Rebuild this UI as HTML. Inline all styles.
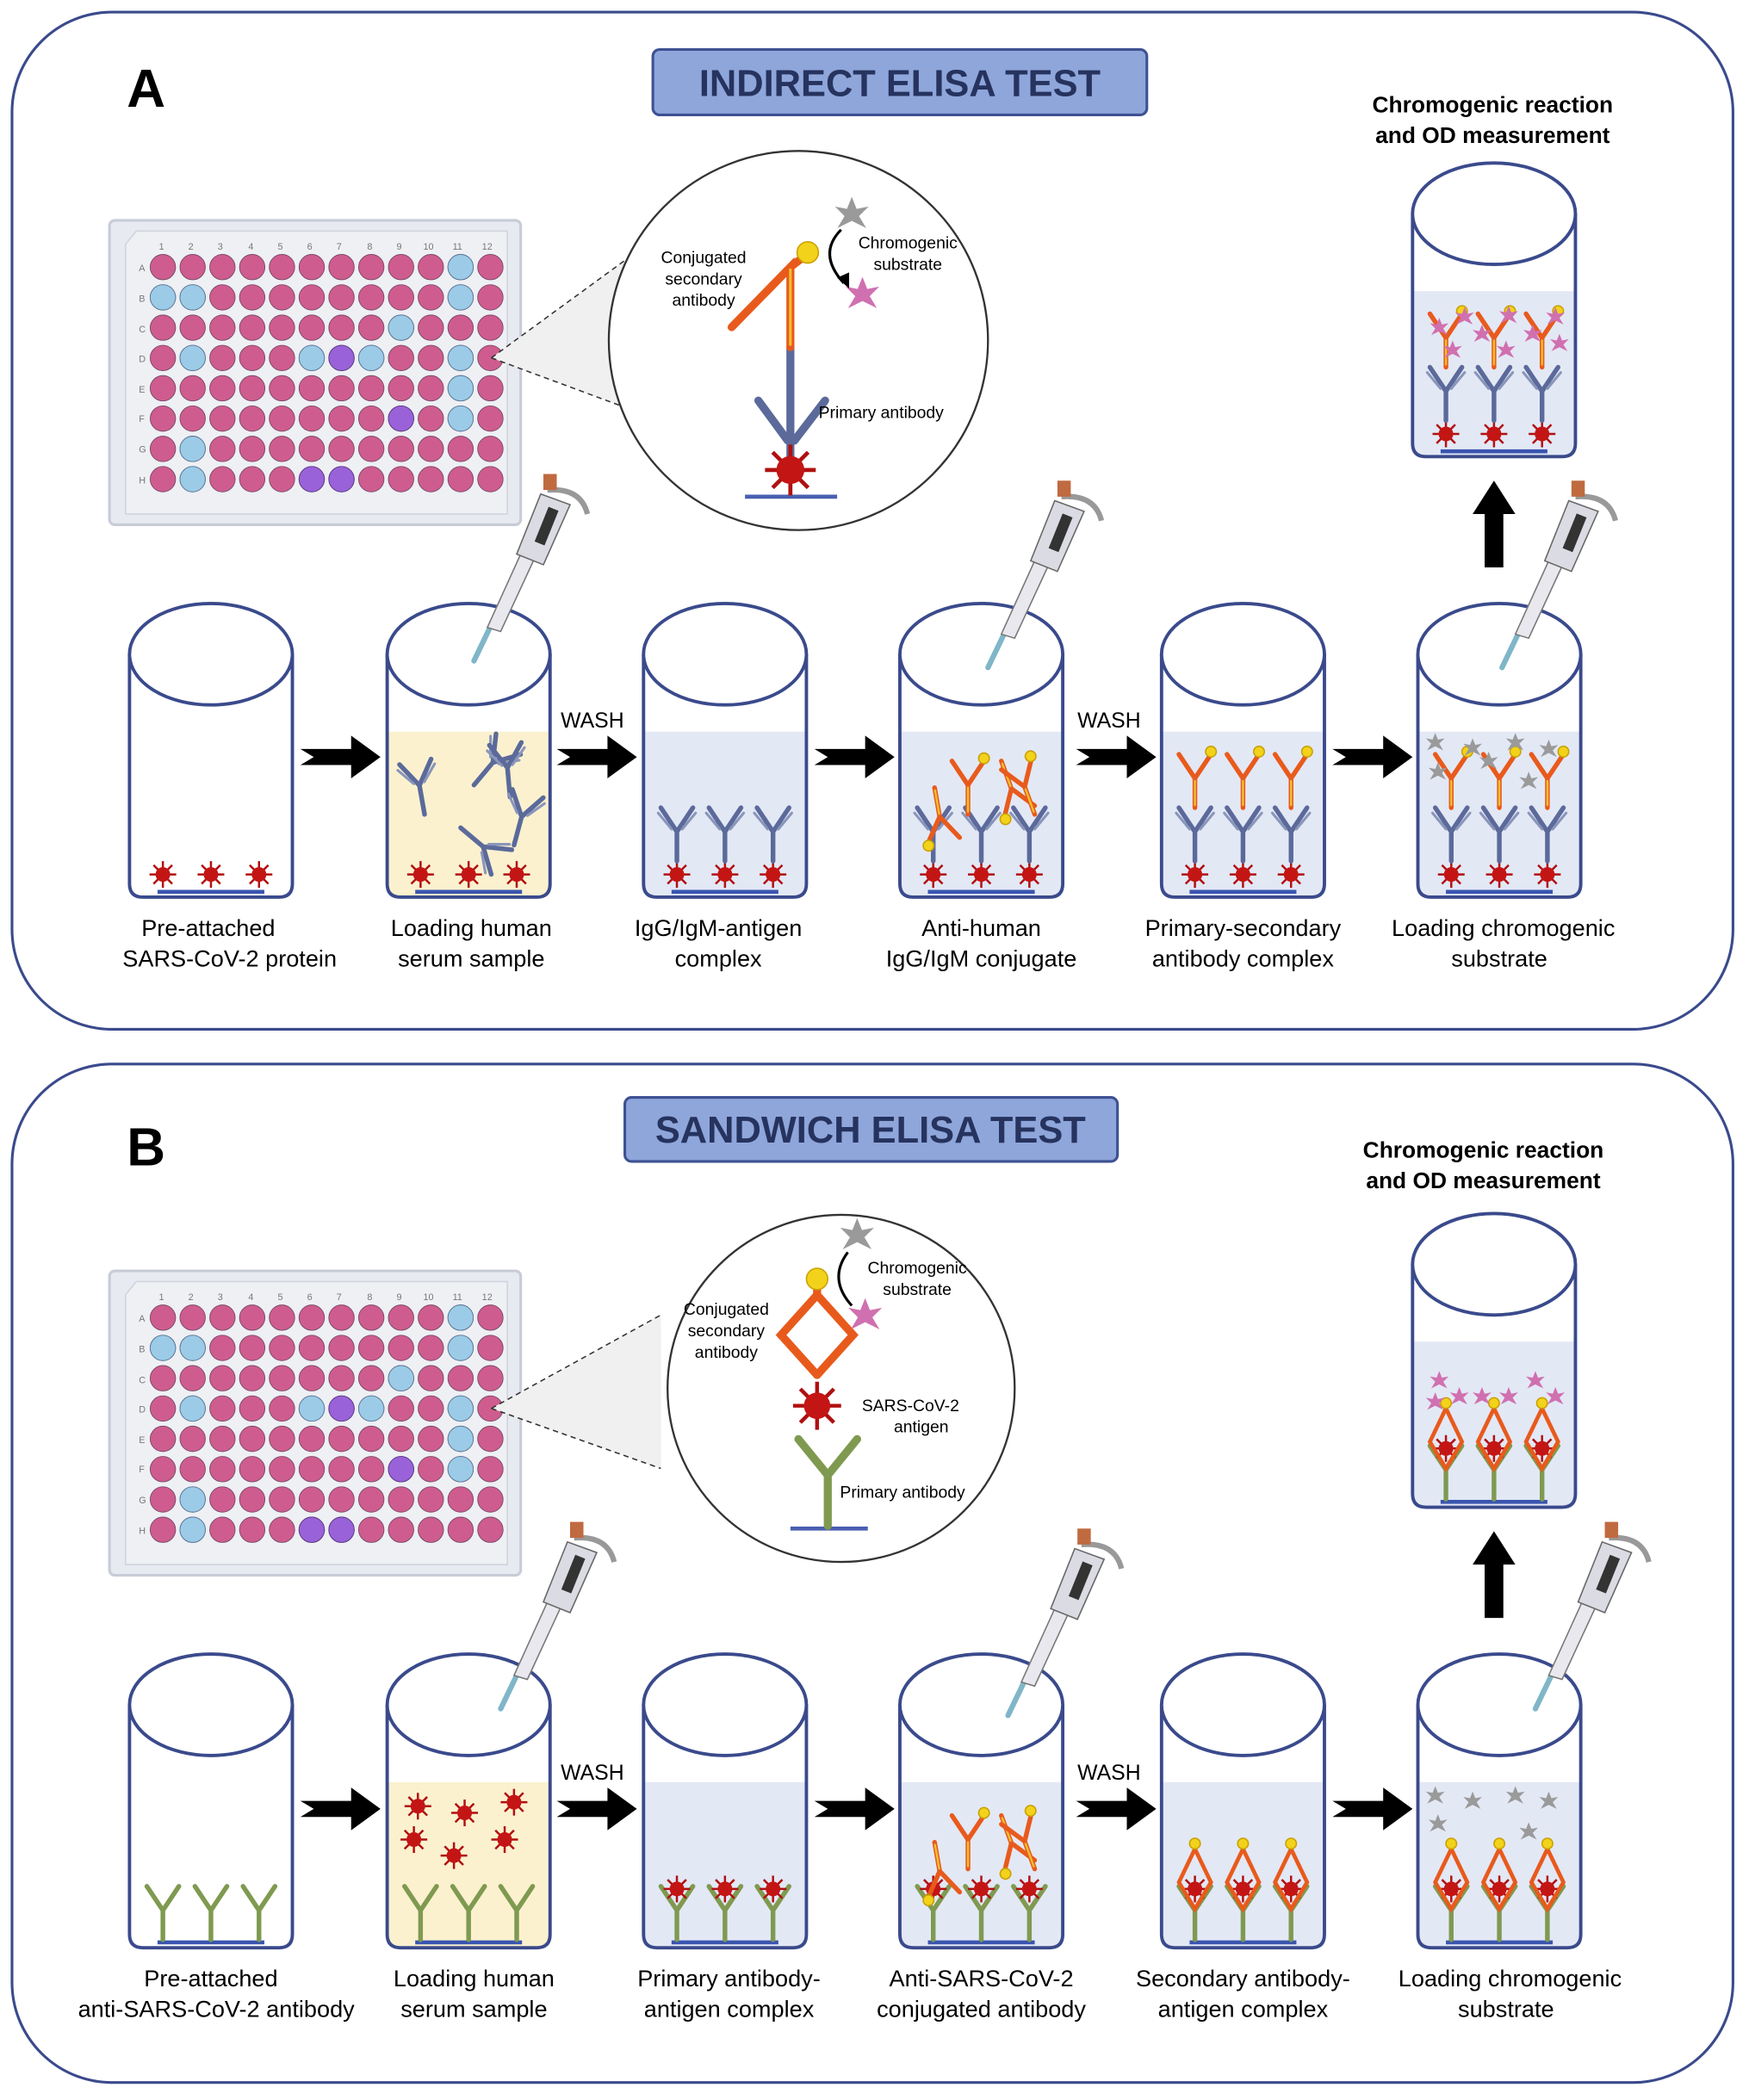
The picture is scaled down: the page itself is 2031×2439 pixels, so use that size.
<!DOCTYPE html>
<html><head><meta charset="utf-8"><style>
html,body{margin:0;padding:0;background:#fff}
svg{display:block}
text{font-family:"Liberation Sans",sans-serif}
</style></head><body>
<svg width="2031" height="2439" viewBox="0 0 1310 1573" xmlns="http://www.w3.org/2000/svg">
<defs>
 <g id="well">
  <path d="M-61,0 L-61,172 Q-61,182 -51,182 L51,182 Q61,182 61,172 L61,0" fill="none" stroke="#3a4a8c" stroke-width="2.5"/>
  <ellipse cx="0" cy="0" rx="61" ry="38" fill="#fff" stroke="#3a4a8c" stroke-width="2.5"/>
 </g>
 <g id="liq"><path d="M-60,58 L-60,172 Q-60,181 -51,181 L51,181 Q60,181 60,172 L60,58Z" fill="#e3e8f5"/></g>
 <g id="liqY"><path d="M-60,58 L-60,172 Q-60,181 -51,181 L51,181 Q60,181 60,172 L60,58Z" fill="#fbf1cf"/></g>
 <g id="vir"><g stroke="#b01010" stroke-width="1.6"><line x1="-10" y1="0" x2="10" y2="0"/><line x1="0" y1="-10" x2="0" y2="10"/><line x1="-7" y1="-7" x2="7" y2="7"/><line x1="-7" y1="7" x2="7" y2="-7"/></g><circle r="5.5" fill="#c41515"/></g>
 <g id="ab" fill="none" stroke-width="3.5" stroke-linecap="round"><path d="M0,0 L0,-22 M0,-22 L-12,-40 M0,-22 L12,-40" stroke="#5b6a9a"/><path d="M-4,-24 L-14,-36 M4,-24 L14,-36" stroke="#8a95bb" stroke-width="2"/></g>
 <g id="sab" fill="none" stroke-width="3.5" stroke-linecap="round"><path d="M0,0 L0,-22 L-12,-40 M0,-22 L12,-40" stroke="#e85a1c"/><path d="M0,-2 L0,-20" stroke="#f2c12e" stroke-width="1.5"/><circle cx="12" cy="-42" r="4" fill="#f2d21a" stroke="#c9a000" stroke-width="1"/></g>
 <g id="gab" fill="none" stroke-width="3.5" stroke-linecap="round"><path d="M0,0 L0,-22 M0,-22 L-12,-40 M0,-22 L12,-40" stroke="#7f9a50"/></g>
 <g id="grey"><path d="M0,-7 L2,-2 7,-3 3,1 6,6 0,3 -6,6 -3,1 -7,-3 -2,-2Z" fill="#9a9a9a"/></g>
 <g id="pink"><path d="M0,-7 L2,-2 7,-3 3,1 6,6 0,3 -6,6 -3,1 -7,-3 -2,-2Z" fill="#d070b0"/></g>
 <g id="arrow"><path d="M0,-6 L38,-6 L38,-16 L60,0 L38,16 L38,6 L0,6 L10,0Z" fill="#000"/></g>
 <g id="pip">
  <path d="M0,0 L12,-25" stroke="#7fb6c8" stroke-width="4" stroke-linecap="round"/>
  <path d="M10,-25 L35,-80 L45,-76 L20,-22Z" fill="#e8e8ee" stroke="#777" stroke-width="1"/>
  <path d="M32,-80 L50,-125 L72,-117 L52,-72Z" fill="#dadbe3" stroke="#666" stroke-width="1"/>
  <rect x="50" y="-115" width="8" height="28" fill="#333" transform="rotate(22 54 -100)"/>
  <path d="M55,-128 Q80,-130 85,-110" fill="none" stroke="#999" stroke-width="4"/>
  <rect x="52" y="-140" width="10" height="12" fill="#c06a40"/>
 </g>
 <g id="plate">
  <rect x="0" y="0" width="308" height="228" rx="4" fill="#e7eaf0" stroke="#c8ccd6" stroke-width="2"/>
  <path d="M20,8 L298,8 L298,220 L12,220 L12,18Z" fill="#eef0f4" stroke="#d0d3dc"/>
 </g>
 <g id="plc"><circle r="9.5" fill="#cf5c8e" stroke="#7a4a6a" stroke-width="0.6"/></g>
 <g id="rowA"><use href="#plc" x="0"/><use href="#plc" x="22.3"/><use href="#plc" x="44.6"/><use href="#plc" x="66.9"/><use href="#plc" x="89.2"/><use href="#plc" x="111.5"/><use href="#plc" x="133.8"/><use href="#plc" x="156.1"/><use href="#plc" x="178.4"/><use href="#plc" x="200.7"/><use href="#plc" x="223"/><use href="#plc" x="245.3"/></g>
 <g id="rowVir"><line x1="-40" y1="668" x2="40" y2="668" stroke="#3a55b0" stroke-width="3"/><use href="#vir" x="-36" y="655"/><use href="#vir" x="0" y="655"/><use href="#vir" x="36" y="655"/></g>
 <g id="abrow"><use href="#ab" x="-36" y="645"/><use href="#ab" x="0" y="645"/><use href="#ab" x="36" y="645"/></g>
 <g id="sabrow"><use href="#sab" x="-36" y="605"/><use href="#sab" x="0" y="605"/><use href="#sab" x="36" y="605"/></g>
 <g id="grow"><line x1="-40" y1="1455" x2="40" y2="1455" stroke="#3a55b0" stroke-width="3"/><use href="#gab" x="-36" y="1453"/><use href="#gab" x="0" y="1453"/><use href="#gab" x="36" y="1453"/></g>
 <g id="vrow"><use href="#vir" x="-36" y="1415"/><use href="#vir" x="0" y="1415"/><use href="#vir" x="36" y="1415"/></g>
 <g id="diam" fill="none" stroke="#e85a1c" stroke-width="3"><path d="M-36,1430 L-48,1410 L-36,1385 L-24,1410Z M0,1430 L-12,1410 L0,1385 L12,1410Z M36,1430 L24,1410 L36,1385 L48,1410Z"/><circle cx="-36" cy="1381" r="4" fill="#f2d21a" stroke="#c9a000" stroke-width="1"/><circle cx="0" cy="1381" r="4" fill="#f2d21a" stroke="#c9a000" stroke-width="1"/><circle cx="36" cy="1381" r="4" fill="#f2d21a" stroke="#c9a000" stroke-width="1"/></g>
 <g id="plateA">
 <use href="#plate"/>
 <g font-size="7" fill="#777">
  <text x="37" y="22">1</text><text x="59" y="22">2</text><text x="81" y="22">3</text><text x="104" y="22">4</text><text x="126" y="22">5</text><text x="148" y="22">6</text><text x="170" y="22">7</text><text x="193" y="22">8</text><text x="215" y="22">9</text><text x="235" y="22">10</text><text x="257" y="22">11</text><text x="279" y="22">12</text>
  <text x="22" y="38">A</text><text x="22" y="61">B</text><text x="22" y="84">C</text><text x="22" y="106">D</text><text x="22" y="129">E</text><text x="22" y="151">F</text><text x="22" y="174">G</text><text x="22" y="197">H</text>
 </g>
 <g transform="translate(40,35)">
  <use href="#rowA"/><use href="#rowA" y="22.7"/><use href="#rowA" y="45.4"/><use href="#rowA" y="68.1"/><use href="#rowA" y="90.8"/><use href="#rowA" y="113.5"/><use href="#rowA" y="136.2"/><use href="#rowA" y="158.9"/>
  <g fill="#9ccbe8" stroke="#5a7a99" stroke-width="0.6">
   <circle cx="223" cy="0" r="9.5"/>
   <circle cx="0" cy="22.7" r="9.5"/><circle cx="22.3" cy="22.7" r="9.5"/><circle cx="223" cy="22.7" r="9.5"/>
   <circle cx="178.4" cy="45.4" r="9.5"/>
   <circle cx="22.3" cy="68.1" r="9.5"/><circle cx="111.5" cy="68.1" r="9.5"/><circle cx="156.1" cy="68.1" r="9.5"/><circle cx="223" cy="68.1" r="9.5"/>
   <circle cx="223" cy="90.8" r="9.5"/><circle cx="223" cy="113.5" r="9.5"/>
   <circle cx="22.3" cy="136.2" r="9.5"/><circle cx="22.3" cy="158.9" r="9.5"/>
  </g>
  <g fill="#9a62d8" stroke="#5a3a88" stroke-width="0.6">
   <circle cx="133.8" cy="68.1" r="9.5"/><circle cx="178.4" cy="113.5" r="9.5"/><circle cx="111.5" cy="158.9" r="9.5"/><circle cx="133.8" cy="158.9" r="9.5"/>
  </g>
 </g>
 </g>
</defs>

<rect x="9" y="9" width="1289" height="762" rx="75" fill="#fff" stroke="#3a4a8c" stroke-width="2"/>
<rect x="9" y="797" width="1289" height="763" rx="75" fill="#fff" stroke="#3a4a8c" stroke-width="2"/>

<text x="95" y="80" font-size="40" font-weight="bold">A</text>
<rect x="489" y="37" width="370" height="49" rx="5" fill="#8fa6db" stroke="#3e5192" stroke-width="2"/>
<text x="674" y="72" font-size="28" font-weight="bold" fill="#26335e" text-anchor="middle">INDIRECT ELISA TEST</text>
<text x="1118" y="84" font-size="17" font-weight="bold" text-anchor="middle">Chromogenic reaction</text>
<text x="1118" y="107" font-size="17" font-weight="bold" text-anchor="middle">and OD measurement</text>

<text x="95" y="873" font-size="40" font-weight="bold">B</text>
<rect x="468" y="822" width="369" height="48" rx="5" fill="#8fa6db" stroke="#3e5192" stroke-width="2"/>
<text x="652" y="856" font-size="28" font-weight="bold" fill="#26335e" text-anchor="middle">SANDWICH ELISA TEST</text>
<text x="1111" y="867" font-size="17" font-weight="bold" text-anchor="middle">Chromogenic reaction</text>
<text x="1111" y="890" font-size="17" font-weight="bold" text-anchor="middle">and OD measurement</text>

<use href="#plateA" x="82" y="165"/>
<use href="#plateA" x="82" y="952"/>

<!-- zoom circle A -->
<path d="M368,268 L468,195 L468,305Z" fill="#f0f0f0"/>
<line x1="368" y1="268" x2="468" y2="195" stroke="#333" stroke-dasharray="4,3"/>
<line x1="368" y1="268" x2="468" y2="305" stroke="#333" stroke-dasharray="4,3"/>
<circle cx="598" cy="255" r="142" fill="#fff" stroke="#333" stroke-width="1.5"/>
<line x1="558" y1="372" x2="627" y2="372" stroke="#4a5fb0" stroke-width="3"/>
<g fill="none" stroke-linecap="round">
 <path d="M592,350 L592,260" stroke="#5b6a9a" stroke-width="6"/>
 <path d="M590,330 L568,300 M595,330 L618,300" stroke="#5b6a9a" stroke-width="6"/>
 <path d="M592,260 L592,200 L548,245 M592,200 L605,190" stroke="#e85a1c" stroke-width="6"/>
 <path d="M592,258 L592,202" stroke="#f2c12e" stroke-width="2"/>
</g>
<use href="#vir" transform="translate(592,352) scale(1.9)"/>
<circle cx="605" cy="189" r="8" fill="#f2d21a" stroke="#c9a000"/>
<use href="#grey" transform="translate(638,160) scale(1.8)"/>
<use href="#pink" transform="translate(646,220) scale(1.8)"/>
<path d="M630,172 Q612,190 632,212" fill="none" stroke="#000" stroke-width="2"/>
<path d="M627,208 L636,216 L636,204Z" fill="#000"/>
<g font-size="12.5" text-anchor="middle">
 <text x="527" y="197">Conjugated</text><text x="527" y="213">secondary</text><text x="527" y="229">antibody</text>
 <text x="680" y="186">Chromogenic</text><text x="680" y="202">substrate</text>
 <text x="660" y="313">Primary antibody</text>
</g>

<!-- zoom circle B -->
<path d="M368,1055 L495,985 L495,1100Z" fill="#f0f0f0"/>
<line x1="368" y1="1055" x2="495" y2="985" stroke="#333" stroke-dasharray="4,3"/>
<line x1="368" y1="1055" x2="495" y2="1100" stroke="#333" stroke-dasharray="4,3"/>
<circle cx="630" cy="1040" r="130" fill="#fff" stroke="#333" stroke-width="1.5"/>
<line x1="592" y1="1145" x2="650" y2="1145" stroke="#4a5fb0" stroke-width="3"/>
<g fill="none" stroke-linecap="round">
 <path d="M620,1143 L620,1105 M620,1105 L598,1078 M620,1105 L642,1078" stroke="#7f9a50" stroke-width="6"/>
 <path d="M612,1030 L585,1000 L612,970 L639,1000 L612,1030 M612,970 L612,962" stroke="#e85a1c" stroke-width="6"/>
</g>
<use href="#vir" transform="translate(612,1053) scale(1.8)"/>
<circle cx="612" cy="958" r="8" fill="#f2d21a" stroke="#c9a000"/>
<use href="#grey" transform="translate(642,925) scale(1.8)"/>
<use href="#pink" transform="translate(648,985) scale(1.8)"/>
<path d="M635,938 Q620,958 638,978" fill="none" stroke="#000" stroke-width="2"/>
<g font-size="12.5" text-anchor="middle">
 <text x="544" y="985">Conjugated</text><text x="544" y="1001">secondary</text><text x="544" y="1017">antibody</text>
 <text x="687" y="954">Chromogenic</text><text x="687" y="970">substrate</text>
 <text x="682" y="1057">SARS-CoV-2</text><text x="690" y="1073">antigen</text>
 <text x="676" y="1122">Primary antibody</text>
</g>

<!-- Panel A wells -->
<use href="#well" x="158" y="490"/>
<use href="#liqY" x="351" y="490"/><use href="#well" x="351" y="490"/>
<use href="#liq" x="543" y="490"/><use href="#well" x="543" y="490"/>
<use href="#liq" x="735" y="490"/><use href="#well" x="735" y="490"/>
<use href="#liq" x="931" y="490"/><use href="#well" x="931" y="490"/>
<use href="#liq" x="1123" y="490"/><use href="#well" x="1123" y="490"/>
<use href="#liq" x="1119" y="160"/><use href="#well" x="1119" y="160"/>
<use href="#pip" x="355" y="495"/>
<use href="#pip" x="740" y="500"/>
<use href="#pip" x="1125" y="500"/>
<use href="#arrow" x="225" y="567"/>
<use href="#arrow" x="417" y="567"/>
<use href="#arrow" x="610" y="567"/>
<use href="#arrow" x="806" y="567"/>
<use href="#arrow" x="998" y="567"/>
<path d="M1112,425 L1112,385 L1103,385 L1119,360 L1135,385 L1126,385 L1126,425Z" fill="#000"/>
<g font-size="16"><text x="420" y="545">WASH</text><text x="807" y="545">WASH</text></g>
<use href="#rowVir" x="158"/><use href="#rowVir" x="351"/><use href="#rowVir" x="543"/><use href="#rowVir" x="735"/><use href="#rowVir" x="931"/><use href="#rowVir" x="1123"/>
<use href="#rowVir" x="1119" y="-330"/>
<use href="#ab" transform="translate(318,610) rotate(-10)"/>
<use href="#ab" transform="translate(355,588) rotate(40)"/>
<use href="#ab" transform="translate(382,597) rotate(-5)"/>
<use href="#ab" transform="translate(345,620) rotate(130)"/>
<use href="#ab" transform="translate(385,633) rotate(15)"/>
<use href="#abrow" x="543"/><use href="#abrow" x="735"/><use href="#abrow" x="931"/><use href="#abrow" x="1123"/><use href="#abrow" x="1119" y="-330"/>
<use href="#sab" transform="translate(700,590) rotate(170)"/>
<use href="#sab" transform="translate(725,610)"/>
<use href="#sab" transform="translate(750,570) rotate(160)"/>
<use href="#sab" transform="translate(775,610) rotate(-20)"/>
<use href="#sabrow" x="931"/><use href="#sabrow" x="1123"/><use href="#sabrow" x="1119" y="-330"/>
<g><use href="#grey" x="1075" y="556"/><use href="#grey" x="1103" y="560"/><use href="#grey" x="1135" y="556"/><use href="#grey" x="1160" y="561"/><use href="#grey" x="1077" y="578"/><use href="#grey" x="1115" y="570"/><use href="#grey" x="1145" y="585"/></g>
<g><use href="#pink" x="1078" y="245"/><use href="#pink" x="1097" y="237"/><use href="#pink" x="1130" y="236"/><use href="#pink" x="1165" y="237"/><use href="#pink" x="1088" y="262"/><use href="#pink" x="1128" y="262"/><use href="#pink" x="1168" y="257"/><use href="#pink" x="1110" y="250"/><use href="#pink" x="1148" y="250"/></g>
<g font-size="17.5" text-anchor="middle">
 <text x="156" y="701">Pre-attached</text><text x="172" y="724">SARS-CoV-2 protein</text>
 <text x="353" y="701">Loading human</text><text x="353" y="724">serum sample</text>
 <text x="538" y="701">IgG/IgM-antigen</text><text x="538" y="724">complex</text>
 <text x="735" y="701">Anti-human</text><text x="735" y="724">IgG/IgM conjugate</text>
 <text x="931" y="701">Primary-secondary</text><text x="931" y="724">antibody complex</text>
 <text x="1126" y="701">Loading chromogenic</text><text x="1123" y="724">substrate</text>
</g>

<!-- Panel B wells -->
<use href="#well" x="158" y="1277"/>
<use href="#liqY" x="351" y="1277"/><use href="#well" x="351" y="1277"/>
<use href="#liq" x="543" y="1277"/><use href="#well" x="543" y="1277"/>
<use href="#liq" x="735" y="1277"/><use href="#well" x="735" y="1277"/>
<use href="#liq" x="931" y="1277"/><use href="#well" x="931" y="1277"/>
<use href="#liq" x="1123" y="1277"/><use href="#well" x="1123" y="1277"/>
<use href="#liq" x="1119" y="947"/><use href="#well" x="1119" y="947"/>
<use href="#pip" x="375" y="1280"/>
<use href="#pip" x="755" y="1285"/>
<use href="#pip" x="1150" y="1280"/>
<use href="#arrow" x="225" y="1355"/>
<use href="#arrow" x="417" y="1355"/>
<use href="#arrow" x="610" y="1355"/>
<use href="#arrow" x="806" y="1355"/>
<use href="#arrow" x="998" y="1355"/>
<path d="M1112,1212 L1112,1172 L1103,1172 L1119,1147 L1135,1172 L1126,1172 L1126,1212Z" fill="#000"/>
<g font-size="16"><text x="420" y="1333">WASH</text><text x="807" y="1333">WASH</text></g>
<use href="#grow" x="158"/><use href="#grow" x="351"/><use href="#grow" x="543"/><use href="#grow" x="735"/><use href="#grow" x="931"/><use href="#grow" x="1123"/><use href="#grow" x="1119" y="-330"/>
<g><use href="#vir" x="313" y="1353"/><use href="#vir" x="348" y="1358"/><use href="#vir" x="385" y="1350"/><use href="#vir" x="310" y="1378"/><use href="#vir" x="340" y="1390"/><use href="#vir" x="378" y="1378"/></g>
<use href="#vrow" x="543"/><use href="#vrow" x="735"/><use href="#vrow" x="931"/><use href="#vrow" x="1123"/><use href="#vrow" x="1119" y="-330"/>
<use href="#sab" transform="translate(700,1380) rotate(170)"/>
<use href="#sab" transform="translate(725,1400)"/>
<use href="#sab" transform="translate(750,1360) rotate(160)"/>
<use href="#sab" transform="translate(775,1400) rotate(-20)"/>
<use href="#diam" x="931"/><use href="#diam" x="1123"/><use href="#diam" x="1119" y="-330"/>
<g><use href="#grey" x="1075" y="1345"/><use href="#grey" x="1103" y="1349"/><use href="#grey" x="1135" y="1345"/><use href="#grey" x="1160" y="1349"/><use href="#grey" x="1077" y="1366"/><use href="#grey" x="1145" y="1372"/></g>
<g><use href="#pink" x="1078" y="1034"/><use href="#pink" x="1093" y="1046"/><use href="#pink" x="1110" y="1046"/><use href="#pink" x="1130" y="1046"/><use href="#pink" x="1150" y="1034"/><use href="#pink" x="1165" y="1046"/><use href="#pink" x="1075" y="1050"/></g>
<g font-size="17.5" text-anchor="middle">
 <text x="158" y="1488">Pre-attached</text><text x="162" y="1511">anti-SARS-CoV-2 antibody</text>
 <text x="355" y="1488">Loading human</text><text x="355" y="1511">serum sample</text>
 <text x="546" y="1488">Primary antibody-</text><text x="546" y="1511">antigen complex</text>
 <text x="735" y="1488">Anti-SARS-CoV-2</text><text x="735" y="1511">conjugated antibody</text>
 <text x="931" y="1488">Secondary antibody-</text><text x="931" y="1511">antigen complex</text>
 <text x="1131" y="1488">Loading chromogenic</text><text x="1128" y="1511">substrate</text>
</g>
</svg>
</body></html>
